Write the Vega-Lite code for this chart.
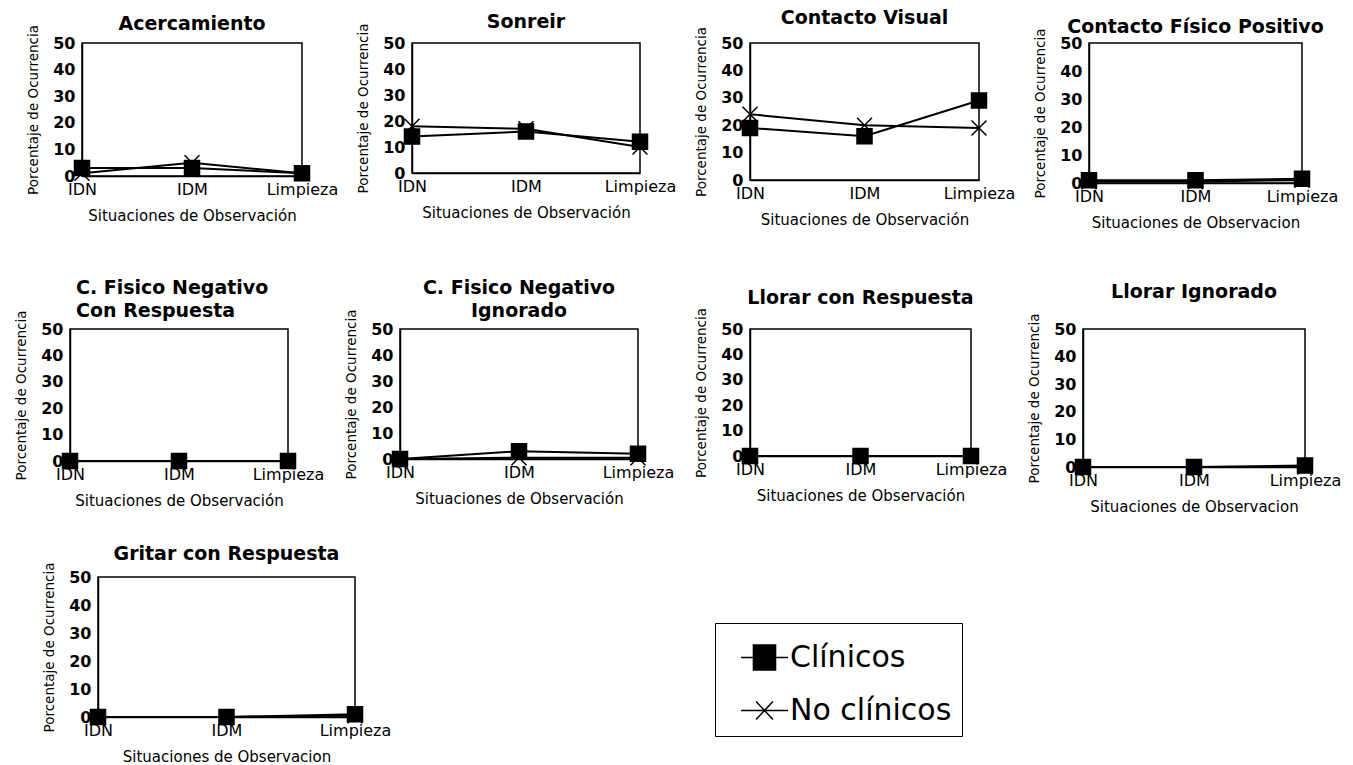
{
  "$schema": "https://vega.github.io/schema/vega-lite/v6.json",
  "background": "white",
  "padding": {"left": 10, "top": 8, "right": 0, "bottom": 0},
  "data": {
    "values": [
      {"conducta": "Acercamiento", "situacion": "IDN", "grupo": "Clínicos", "porcentaje": 3},
      {"conducta": "Acercamiento", "situacion": "IDM", "grupo": "Clínicos", "porcentaje": 3},
      {"conducta": "Acercamiento", "situacion": "Limpieza", "grupo": "Clínicos", "porcentaje": 1},
      {"conducta": "Acercamiento", "situacion": "IDN", "grupo": "No clínicos", "porcentaje": 1},
      {"conducta": "Acercamiento", "situacion": "IDM", "grupo": "No clínicos", "porcentaje": 5},
      {"conducta": "Acercamiento", "situacion": "Limpieza", "grupo": "No clínicos", "porcentaje": 1},
      {"conducta": "Sonreir", "situacion": "IDN", "grupo": "Clínicos", "porcentaje": 14},
      {"conducta": "Sonreir", "situacion": "IDM", "grupo": "Clínicos", "porcentaje": 16},
      {"conducta": "Sonreir", "situacion": "Limpieza", "grupo": "Clínicos", "porcentaje": 12},
      {"conducta": "Sonreir", "situacion": "IDN", "grupo": "No clínicos", "porcentaje": 18},
      {"conducta": "Sonreir", "situacion": "IDM", "grupo": "No clínicos", "porcentaje": 17},
      {"conducta": "Sonreir", "situacion": "Limpieza", "grupo": "No clínicos", "porcentaje": 10},
      {"conducta": "Contacto Visual", "situacion": "IDN", "grupo": "Clínicos", "porcentaje": 19},
      {"conducta": "Contacto Visual", "situacion": "IDM", "grupo": "Clínicos", "porcentaje": 16},
      {"conducta": "Contacto Visual", "situacion": "Limpieza", "grupo": "Clínicos", "porcentaje": 29},
      {"conducta": "Contacto Visual", "situacion": "IDN", "grupo": "No clínicos", "porcentaje": 24},
      {"conducta": "Contacto Visual", "situacion": "IDM", "grupo": "No clínicos", "porcentaje": 20},
      {"conducta": "Contacto Visual", "situacion": "Limpieza", "grupo": "No clínicos", "porcentaje": 19},
      {"conducta": "Contacto Físico Positivo", "situacion": "IDN", "grupo": "Clínicos", "porcentaje": 1},
      {"conducta": "Contacto Físico Positivo", "situacion": "IDM", "grupo": "Clínicos", "porcentaje": 1},
      {"conducta": "Contacto Físico Positivo", "situacion": "Limpieza", "grupo": "Clínicos", "porcentaje": 1.5},
      {"conducta": "Contacto Físico Positivo", "situacion": "IDN", "grupo": "No clínicos", "porcentaje": 0.5},
      {"conducta": "Contacto Físico Positivo", "situacion": "IDM", "grupo": "No clínicos", "porcentaje": 0.5},
      {"conducta": "Contacto Físico Positivo", "situacion": "Limpieza", "grupo": "No clínicos", "porcentaje": 1},
      {"conducta": "C. Físico Negativo Con Respuesta", "situacion": "IDN", "grupo": "Clínicos", "porcentaje": 0},
      {"conducta": "C. Físico Negativo Con Respuesta", "situacion": "IDM", "grupo": "Clínicos", "porcentaje": 0},
      {"conducta": "C. Físico Negativo Con Respuesta", "situacion": "Limpieza", "grupo": "Clínicos", "porcentaje": 0},
      {"conducta": "C. Físico Negativo Con Respuesta", "situacion": "IDN", "grupo": "No clínicos", "porcentaje": 0},
      {"conducta": "C. Físico Negativo Con Respuesta", "situacion": "IDM", "grupo": "No clínicos", "porcentaje": 0},
      {"conducta": "C. Físico Negativo Con Respuesta", "situacion": "Limpieza", "grupo": "No clínicos", "porcentaje": 0},
      {"conducta": "C. Físico Negativo Ignorado", "situacion": "IDN", "grupo": "Clínicos", "porcentaje": 0},
      {"conducta": "C. Físico Negativo Ignorado", "situacion": "IDM", "grupo": "Clínicos", "porcentaje": 3},
      {"conducta": "C. Físico Negativo Ignorado", "situacion": "Limpieza", "grupo": "Clínicos", "porcentaje": 2},
      {"conducta": "C. Físico Negativo Ignorado", "situacion": "IDN", "grupo": "No clínicos", "porcentaje": 0},
      {"conducta": "C. Físico Negativo Ignorado", "situacion": "IDM", "grupo": "No clínicos", "porcentaje": 0.5},
      {"conducta": "C. Físico Negativo Ignorado", "situacion": "Limpieza", "grupo": "No clínicos", "porcentaje": 0.5},
      {"conducta": "Llorar con Respuesta", "situacion": "IDN", "grupo": "Clínicos", "porcentaje": 0},
      {"conducta": "Llorar con Respuesta", "situacion": "IDM", "grupo": "Clínicos", "porcentaje": 0},
      {"conducta": "Llorar con Respuesta", "situacion": "Limpieza", "grupo": "Clínicos", "porcentaje": 0},
      {"conducta": "Llorar con Respuesta", "situacion": "IDN", "grupo": "No clínicos", "porcentaje": 0},
      {"conducta": "Llorar con Respuesta", "situacion": "IDM", "grupo": "No clínicos", "porcentaje": 0},
      {"conducta": "Llorar con Respuesta", "situacion": "Limpieza", "grupo": "No clínicos", "porcentaje": 0},
      {"conducta": "Llorar Ignorado", "situacion": "IDN", "grupo": "Clínicos", "porcentaje": 0},
      {"conducta": "Llorar Ignorado", "situacion": "IDM", "grupo": "Clínicos", "porcentaje": 0},
      {"conducta": "Llorar Ignorado", "situacion": "Limpieza", "grupo": "Clínicos", "porcentaje": 0.5},
      {"conducta": "Llorar Ignorado", "situacion": "IDN", "grupo": "No clínicos", "porcentaje": 0},
      {"conducta": "Llorar Ignorado", "situacion": "IDM", "grupo": "No clínicos", "porcentaje": 0},
      {"conducta": "Llorar Ignorado", "situacion": "Limpieza", "grupo": "No clínicos", "porcentaje": 0},
      {"conducta": "Gritar con Respuesta", "situacion": "IDN", "grupo": "Clínicos", "porcentaje": 0},
      {"conducta": "Gritar con Respuesta", "situacion": "IDM", "grupo": "Clínicos", "porcentaje": 0},
      {"conducta": "Gritar con Respuesta", "situacion": "Limpieza", "grupo": "Clínicos", "porcentaje": 1},
      {"conducta": "Gritar con Respuesta", "situacion": "IDN", "grupo": "No clínicos", "porcentaje": 0},
      {"conducta": "Gritar con Respuesta", "situacion": "IDM", "grupo": "No clínicos", "porcentaje": 0},
      {"conducta": "Gritar con Respuesta", "situacion": "Limpieza", "grupo": "No clínicos", "porcentaje": 0.5}
    ]
  },
  "config": {
    "font": "DejaVu Sans",
    "view": {"stroke": "black", "strokeWidth": 1.5},
    "title": {"font": "DejaVu Sans", "fontSize": 19, "fontWeight": "bold", "color": "black", "anchor": "middle", "lineHeight": 23},
    "axis": {"labelFont": "DejaVu Sans", "titleFont": "DejaVu Sans", "labelColor": "black", "titleColor": "black", "ticks": false, "grid": false, "domainColor": "black", "domainWidth": 1.5},
    "axisX": {"labelFontSize": 16, "labelAngle": 0, "labelPadding": 5, "titleFontSize": 15, "titleFontWeight": "normal", "titlePadding": 11},
    "axisY": {"labelFontSize": 16, "labelFontWeight": "bold", "labelPadding": 7, "titleFontSize": 13.5, "titleFontWeight": "normal", "titlePadding": 12, "tickCount": 6, "labelOverlap": false, "labelFlush": false},
    "legend": {"labelFont": "DejaVu Sans", "labelFontSize": 30, "labelColor": "black", "labelLimit": 400, "symbolSize": 2209, "symbolStrokeWidth": 1.5, "strokeColor": "black", "padding": 10, "rowPadding": 13, "labelOffset": 1, "symbolOffset": 15},
    "line": {"color": "black", "strokeWidth": 2},
    "point": {"filled": true, "color": "black", "stroke": "black", "strokeWidth": 1.5, "size": 225, "opacity": 1}
  },
  "vconcat": [
    {
      "spacing": 14,
      "hconcat": [
        {"width": 1, "height": 1, "view": {"stroke": null}, "mark": "point", "transform": [{"filter": "false"}]},
        {
          "spacing": 16,
          "hconcat": [
            {
              "width": 220, "height": 133,
              "title": {"text": "Acercamiento", "offset": -10},
              "transform": [{"filter": "datum.conducta === 'Acercamiento'"}],
              "encoding": {
                "x": {"field": "situacion", "type": "ordinal", "sort": ["IDN", "IDM", "Limpieza"], "scale": {"type": "point", "padding": 0}, "title": "Situaciones de Observación"},
                "y": {"field": "porcentaje", "type": "quantitative", "scale": {"domain": [0, 50]}, "title": "Porcentaje de Ocurrencia"}
              },
              "layer": [
                {"mark": "line", "encoding": {"detail": {"field": "grupo"}}},
                {"mark": "point", "encoding": {"shape": {"field": "grupo", "type": "nominal", "scale": {"domain": ["Clínicos", "No clínicos"], "range": ["M-1,-1H1V1H-1Z", "M-1,-1L1,1M-1,1L1,-1"]}, "legend": null}}}
              ]
            },
            {
              "width": 228, "height": 130,
              "title": {"text": "Sonreir", "offset": -9},
              "transform": [{"filter": "datum.conducta === 'Sonreir'"}],
              "encoding": {
                "x": {"field": "situacion", "type": "ordinal", "sort": ["IDN", "IDM", "Limpieza"], "scale": {"type": "point", "padding": 0}, "title": "Situaciones de Observación"},
                "y": {"field": "porcentaje", "type": "quantitative", "scale": {"domain": [0, 50]}, "title": "Porcentaje de Ocurrencia"}
              },
              "layer": [
                {"mark": "line", "encoding": {"detail": {"field": "grupo"}}},
                {"mark": "point", "encoding": {"shape": {"field": "grupo", "type": "nominal", "scale": {"domain": ["Clínicos", "No clínicos"], "range": ["M-1,-1H1V1H-1Z", "M-1,-1L1,1M-1,1L1,-1"]}, "legend": null}}}
              ]
            },
            {
              "width": 229, "height": 137,
              "title": {"text": "Contacto Visual", "offset": -2},
              "transform": [{"filter": "datum.conducta === 'Contacto Visual'"}],
              "encoding": {
                "x": {"field": "situacion", "type": "ordinal", "sort": ["IDN", "IDM", "Limpieza"], "scale": {"type": "point", "padding": 0}, "title": "Situaciones de Observación"},
                "y": {"field": "porcentaje", "type": "quantitative", "scale": {"domain": [0, 50]}, "title": "Porcentaje de Ocurrencia"}
              },
              "layer": [
                {"mark": "line", "encoding": {"detail": {"field": "grupo"}}},
                {"mark": "point", "encoding": {"shape": {"field": "grupo", "type": "nominal", "scale": {"domain": ["Clínicos", "No clínicos"], "range": ["M-1,-1H1V1H-1Z", "M-1,-1L1,1M-1,1L1,-1"]}, "legend": null}}}
              ]
            },
            {
              "width": 213, "height": 140,
              "title": {"text": "Contacto Físico Positivo", "offset": -9},
              "transform": [{"filter": "datum.conducta === 'Contacto Físico Positivo'"}],
              "encoding": {
                "x": {"field": "situacion", "type": "ordinal", "sort": ["IDN", "IDM", "Limpieza"], "scale": {"type": "point", "padding": 0}, "title": "Situaciones de Observacion"},
                "y": {"field": "porcentaje", "type": "quantitative", "scale": {"domain": [0, 50]}, "title": "Porcentaje de Ocurrencia"}
              },
              "layer": [
                {"mark": "line", "encoding": {"detail": {"field": "grupo"}}},
                {"mark": "point", "encoding": {"shape": {"field": "grupo", "type": "nominal", "scale": {"domain": ["Clínicos", "No clínicos"], "range": ["M-1,-1H1V1H-1Z", "M-1,-1L1,1M-1,1L1,-1"]}, "legend": null}}}
              ]
            }
          ]
        }
      ]
    },
    {
      "spacing": 29,
      "vconcat": [
        {
          "spacing": 2,
          "hconcat": [
            {"width": 1, "height": 1, "view": {"stroke": null}, "mark": "point", "transform": [{"filter": "false"}]},
            {
              "spacing": 18,
              "hconcat": [
                {
                  "width": 218, "height": 132,
                  "title": {"text": ["C. Fisico Negativo", "Con Respuesta"], "anchor": "start", "frame": "group", "dx": 6, "offset": -11},
                  "transform": [{"filter": "datum.conducta === 'C. Físico Negativo Con Respuesta'"}],
                  "encoding": {
                    "x": {"field": "situacion", "type": "ordinal", "sort": ["IDN", "IDM", "Limpieza"], "scale": {"type": "point", "padding": 0}, "title": "Situaciones de Observación"},
                    "y": {"field": "porcentaje", "type": "quantitative", "scale": {"domain": [0, 50]}, "title": "Porcentaje de Ocurrencia"}
                  },
                  "layer": [
                    {"mark": "line", "encoding": {"detail": {"field": "grupo"}}},
                    {"mark": "point", "encoding": {"shape": {"field": "grupo", "type": "nominal", "scale": {"domain": ["Clínicos", "No clínicos"], "range": ["M-1,-1H1V1H-1Z", "M-1,-1L1,1M-1,1L1,-1"]}, "legend": null}}}
                  ]
                },
                {
                  "width": 238, "height": 130,
                  "title": {"text": ["C. Fisico Negativo", "Ignorado"], "offset": -12},
                  "transform": [{"filter": "datum.conducta === 'C. Físico Negativo Ignorado'"}],
                  "encoding": {
                    "x": {"field": "situacion", "type": "ordinal", "sort": ["IDN", "IDM", "Limpieza"], "scale": {"type": "point", "padding": 0}, "title": "Situaciones de Observación"},
                    "y": {"field": "porcentaje", "type": "quantitative", "scale": {"domain": [0, 50]}, "title": "Porcentaje de Ocurrencia"}
                  },
                  "layer": [
                    {"mark": "line", "encoding": {"detail": {"field": "grupo"}}},
                    {"mark": "point", "encoding": {"shape": {"field": "grupo", "type": "nominal", "scale": {"domain": ["Clínicos", "No clínicos"], "range": ["M-1,-1H1V1H-1Z", "M-1,-1L1,1M-1,1L1,-1"]}, "legend": null}}}
                  ]
                },
                {
                  "width": 221, "height": 127,
                  "title": {"text": "Llorar con Respuesta", "offset": -1},
                  "transform": [{"filter": "datum.conducta === 'Llorar con Respuesta'"}],
                  "encoding": {
                    "x": {"field": "situacion", "type": "ordinal", "sort": ["IDN", "IDM", "Limpieza"], "scale": {"type": "point", "padding": 0}, "title": "Situaciones de Observación"},
                    "y": {"field": "porcentaje", "type": "quantitative", "scale": {"domain": [0, 50]}, "title": "Porcentaje de Ocurrencia"}
                  },
                  "layer": [
                    {"mark": "line", "encoding": {"detail": {"field": "grupo"}}},
                    {"mark": "point", "encoding": {"shape": {"field": "grupo", "type": "nominal", "scale": {"domain": ["Clínicos", "No clínicos"], "range": ["M-1,-1H1V1H-1Z", "M-1,-1L1,1M-1,1L1,-1"]}, "legend": null}}}
                  ]
                },
                {
                  "width": 222, "height": 138,
                  "title": {"text": "Llorar Ignorado", "offset": 11},
                  "transform": [{"filter": "datum.conducta === 'Llorar Ignorado'"}],
                  "encoding": {
                    "x": {"field": "situacion", "type": "ordinal", "sort": ["IDN", "IDM", "Limpieza"], "scale": {"type": "point", "padding": 0}, "title": "Situaciones de Observacion"},
                    "y": {"field": "porcentaje", "type": "quantitative", "scale": {"domain": [0, 50]}, "title": "Porcentaje de Ocurrencia"}
                  },
                  "layer": [
                    {"mark": "line", "encoding": {"detail": {"field": "grupo"}}},
                    {"mark": "point", "encoding": {"shape": {"field": "grupo", "type": "nominal", "scale": {"domain": ["Clínicos", "No clínicos"], "range": ["M-1,-1H1V1H-1Z", "M-1,-1L1,1M-1,1L1,-1"]}, "legend": null}}}
                  ]
                }
              ]
            }
          ]
        },
        {
          "spacing": 30,
          "hconcat": [
            {"width": 1, "height": 1, "view": {"stroke": null}, "mark": "point", "transform": [{"filter": "false"}]},
            {
              "width": 257, "height": 140,
              "title": {"text": "Gritar con Respuesta", "offset": -2},
              "transform": [{"filter": "datum.conducta === 'Gritar con Respuesta'"}],
              "encoding": {
                "x": {"field": "situacion", "type": "ordinal", "sort": ["IDN", "IDM", "Limpieza"], "scale": {"type": "point", "padding": 0}, "title": "Situaciones de Observacion"},
                "y": {"field": "porcentaje", "type": "quantitative", "scale": {"domain": [0, 50]}, "title": "Porcentaje de Ocurrencia"}
              },
              "layer": [
                {"mark": "line", "encoding": {"detail": {"field": "grupo"}}},
                {"mark": "point", "encoding": {"shape": {"field": "grupo", "type": "nominal", "scale": {"domain": ["Clínicos", "No clínicos"], "range": ["M-1,-1H1V1H-1Z", "M-1,-1L1,1M-1,1L1,-1"]}, "legend": null}}},
                {
                  "mark": {"type": "point", "size": 0, "strokeWidth": 1.5},
                  "encoding": {
                    "shape": {
                      "field": "grupo", "type": "nominal", "title": null,
                      "scale": {"domain": ["Clínicos", "No clínicos"], "range": ["M-1,0H1M-0.47,-0.53H0.47V0.53H-0.47Z", "M-1,0H1M-0.36,-0.38L0.36,0.38M-0.36,0.38L0.36,-0.38"]},
                      "legend": {"orient": "none", "legendX": 617, "legendY": 46, "direction": "vertical"}
                    },
                    "stroke": {
                      "field": "grupo", "type": "nominal", "title": null,
                      "scale": {"domain": ["Clínicos", "No clínicos"], "range": ["black", "black"]},
                      "legend": {"orient": "none", "legendX": 617, "legendY": 46, "direction": "vertical"}
                    },
                    "fill": {
                      "field": "grupo", "type": "nominal", "title": null,
                      "scale": {"domain": ["Clínicos", "No clínicos"], "range": ["black", "black"]},
                      "legend": {"orient": "none", "legendX": 617, "legendY": 46, "direction": "vertical"}
                    }
                  }
                }
              ],
              "resolve": {"scale": {"shape": "independent", "stroke": "independent", "fill": "independent"}}
            }
          ]
        }
      ]
    }
  ],
  "spacing": 47
}
